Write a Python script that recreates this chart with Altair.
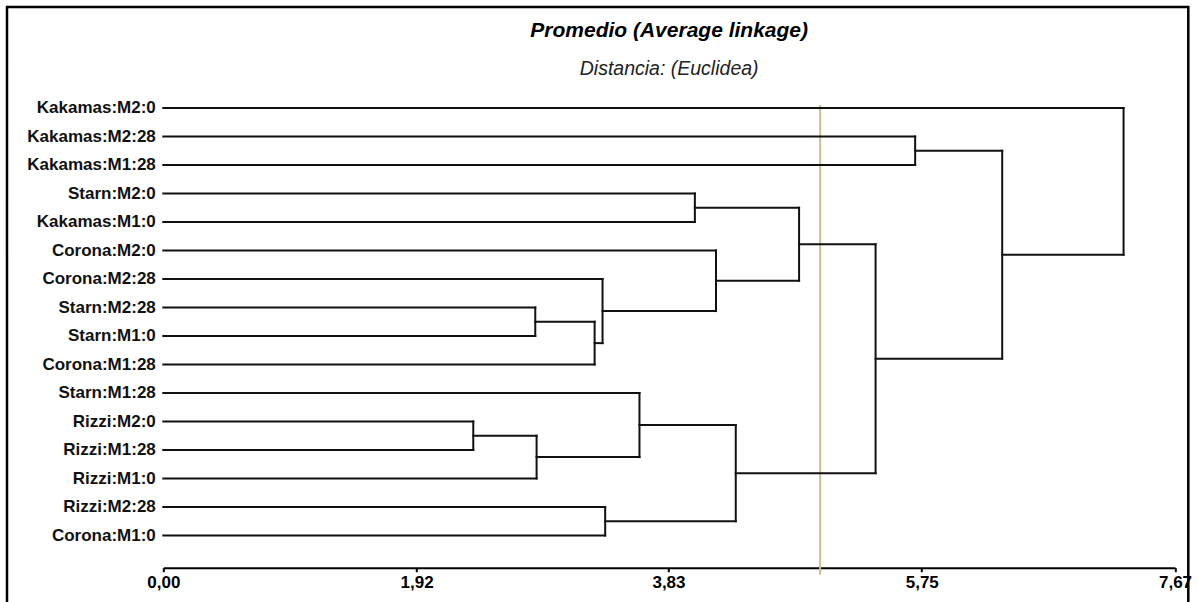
import json
import altair as alt
import pandas as pd

# ---- data -------------------------------------------------------------
leaves = ["Kakamas:M2:0", "Kakamas:M2:28", "Kakamas:M1:28", "Starn:M2:0",
          "Kakamas:M1:0", "Corona:M2:0", "Corona:M2:28", "Starn:M2:28",
          "Starn:M1:0", "Corona:M1:28", "Starn:M1:28", "Rizzi:M2:0",
          "Rizzi:M1:28", "Rizzi:M1:0", "Rizzi:M2:28", "Corona:M1:0"]

# merge steps (ids >= 16 refer to earlier merges, in order)
merge_a = [11, 7, 16, 17, 6, 14, 10, 3, 5, 22, 23, 26, 1, 28, 0]
merge_b = [12, 8, 13, 9, 19, 15, 18, 4, 20, 21, 24, 25, 2, 27, 29]
merge_h = [2.35, 2.82, 2.83, 3.27, 3.33, 3.35, 3.61, 4.03, 4.19, 4.34,
           4.82, 5.40, 5.70, 6.36, 7.28]

x_ticks = [0.00, 1.92, 3.83, 5.75, 7.67]
cut_height = [4.98]

title_text = "Promedio (Average linkage)"
subtitle_text = "Distancia: (Euclidea)"

# ---- build dendrogram segments ---------------------------------------
pos = {i: (0.0, float(i)) for i in range(len(leaves))}
rows = []
for k, (a, b, h) in enumerate(zip(merge_a, merge_b, merge_h)):
    xa, ya = pos[a]
    xb, yb = pos[b]
    rows.append({"x": xa, "x2": h, "y": ya, "y2": ya})
    rows.append({"x": xb, "x2": h, "y": yb, "y2": yb})
    rows.append({"x": h, "x2": h, "y": ya, "y2": yb})
    pos[len(leaves) + k] = (h, (ya + yb) / 2)
segs = pd.DataFrame(rows)

# ---- layout ------------------------------------------------------------
PL, PT = 163.3, 93.75
W, H = 1011.7, 473.95
PR, PB = 1199 - PL - W, 602 - PT - H

label_expr_y = json.dumps(leaves) + "[datum.value]"

x_scale = alt.Scale(domain=[0, x_ticks[-1]], nice=False, zero=False)
y_scale = alt.Scale(domain=[-0.5, 16.13], reverse=True, nice=False, zero=False)

lines = alt.Chart(segs).mark_rule(
    color="#111111", strokeWidth=2, strokeCap="square"
).encode(
    x=alt.X("x:Q", scale=x_scale, axis=alt.Axis(
        title=None, values=x_ticks, grid=False,
        labelExpr="replace(format(datum.value, '.2f'), '.', ',')",
        domainColor="black", domainWidth=2, tickColor="black", tickWidth=2,
        tickSize=4, labelPadding=3, labelColor="black",
        labelFont="Liberation Sans",
        labelFontWeight="bold", labelFontSize=17,
        labelFlush=False, labelOverlap=False)),
    x2="x2:Q",
    y=alt.Y("y:Q", scale=y_scale, axis=alt.Axis(
        title=None, values=list(range(len(leaves))), grid=False,
        domain=False, ticks=False, labelPadding=8, labelExpr=label_expr_y,
        labelColor="#111111", labelFont="Liberation Sans",
        labelFontWeight="bold", labelFontSize=17, labelOverlap=False,
        labelFlush=False)),
    y2="y2:Q",
)

cut = alt.Chart(pd.DataFrame({"cut": cut_height})).mark_rule(
    color="#c9bd95", strokeWidth=2
).encode(
    x=alt.X("cut:Q", title=None),
    y=alt.value(11.25),
    y2=alt.value(481),
)

frame = alt.Chart(pd.DataFrame({"f": [0]})).mark_rect(
    filled=False, stroke="black", strokeWidth=2.5
).encode(
    x=alt.value(7 - PL), x2=alt.value(1188.3 - PL),
    y=alt.value(7 - PT), y2=alt.value(560),
)

chart = alt.layer(frame, cut, lines).properties(
    width=W, height=H,
    autosize=alt.AutoSizeParams(type="none"),
    padding={"left": PL, "top": PT, "right": PR, "bottom": PB},
    background="white",
    title=alt.Title(
        text=title_text, subtitle=subtitle_text, anchor="middle", frame="group",
        font="Liberation Sans", fontSize=21, fontStyle="italic",
        fontWeight="bold", color="black",
        subtitleFont="Liberation Sans", subtitleFontSize=19.5,
        subtitleFontStyle="italic", subtitleColor="#222222",
        subtitlePadding=19, offset=-73,
    ),
).configure_view(stroke=None)

chart.save("out.html", embed_options={"renderer": "svg", "actions": False})
